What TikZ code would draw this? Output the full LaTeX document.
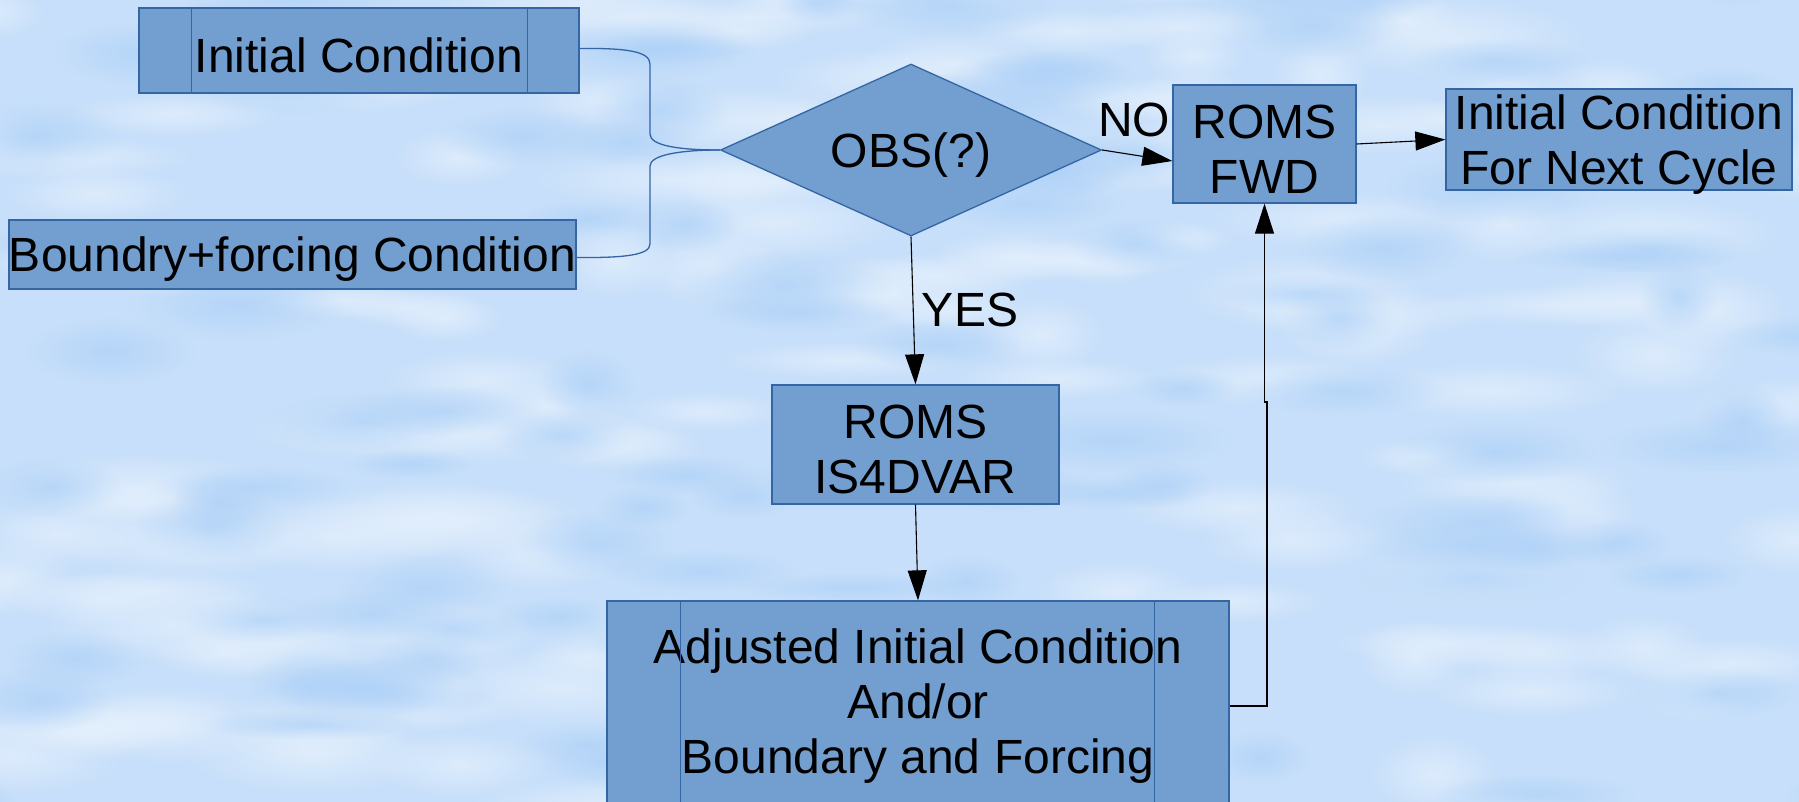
\documentclass[tikz,border=0pt]{standalone}
\usepackage{fontspec}
\setmainfont{Liberation Sans}
\usetikzlibrary{arrows.meta,shapes.geometric,fadings}
\definecolor{bgblue}{HTML}{C7DFFA}
\definecolor{cloudlight}{HTML}{E4F0FD}
\definecolor{clouddark}{HTML}{AFD2F8}
\definecolor{boxfill}{HTML}{729FCF}
\definecolor{boxline}{HTML}{3465A4}
\tikzfading[name=softblob, inner color=transparent!25, outer color=transparent!100]
\tikzset{
  box/.style={draw=boxline, fill=boxfill, line width=1.3pt, inner sep=0pt},
  txt/.style={align=center, inner sep=0pt, yshift=-5pt, font=\fontsize{48}{55}\selectfont},
  arr/.style={draw=black, line width=1.1pt, -{Triangle[length=30pt,width=19pt]}},
  link/.style={draw=boxline, line width=1.3pt},
  lbl/.style={font=\fontsize{48}{55}\selectfont, inner sep=0pt},
}
\begin{document}
\begin{tikzpicture}[x=1pt,y=-1pt]
\useasboundingbox (0,0) rectangle (1799,802);
\fill[bgblue] (0,0) rectangle (1799,802);
\begin{scope}
\clip (0,0) rectangle (1799,802);
\pgfmathsetseed{7}
\foreach \i in {1,...,150} {
  \pgfmathsetmacro\cx{rnd*1899-50}
  \pgfmathsetmacro\cy{rnd*860-30}
  \pgfmathsetmacro\rx{50+rnd*100}
  \pgfmathsetmacro\ry{18+rnd*24}
  \fill[cloudlight, path fading=softblob] (\cx,\cy) ellipse [x radius=\rx pt, y radius=\ry pt];
}
\foreach \i in {1,...,110} {
  \pgfmathsetmacro\cx{rnd*1899-50}
  \pgfmathsetmacro\cy{rnd*860-30}
  \pgfmathsetmacro\rx{40+rnd*80}
  \pgfmathsetmacro\ry{15+rnd*22}
  \fill[clouddark, path fading=softblob] (\cx,\cy) ellipse [x radius=\rx pt, y radius=\ry pt];
}
\end{scope}

% nodes
\node[box, minimum width=440pt, minimum height=85pt, label={[txt]center:Initial Condition}] (ic) at (359,50.5) {};
\node[box, minimum width=567pt, minimum height=69pt, label={[txt]center:Boundry+forcing Condition}] (bf) at (292.5,254.5) {};
\node[box, diamond, aspect=2.2, minimum width=381pt, minimum height=172pt, label={[txt]center:OBS(?)}] (obs) at (911,150) {};
\node[box, minimum width=183pt, minimum height=118pt, label={[txt]center:{ROMS\\FWD}}] (fwd) at (1264.5,144) {};
\node[box, minimum width=346pt, minimum height=101pt, label={[txt]center:{Initial Condition\\For Next Cycle}}] (next) at (1619,139.5) {};
\node[box, minimum width=287pt, minimum height=119pt, label={[txt]center:{ROMS\\IS4DVAR}}] (is4) at (915.5,444.5) {};
\node[box, minimum width=622pt, minimum height=210pt, label={[txt,yshift=5pt]center:{Adjusted Initial Condition\\And/or\\Boundary and Forcing}}] (adj) at (918,706) {};

% inner side bars
\draw[link] ([xshift=53pt]ic.north west) -- ([xshift=53pt]ic.south west);
\draw[link] ([xshift=-52pt]ic.north east) -- ([xshift=-52pt]ic.south east);
\draw[link] ([xshift=74pt]adj.north west) -- ([xshift=74pt]adj.south west);
\draw[link] ([xshift=-75pt]adj.north east) -- ([xshift=-75pt]adj.south east);

% brace-like joins
\draw[link] ([yshift=2pt]ic.east) .. controls (625,48) and (650,51) .. (650,64) -- (650,134)
  .. controls (650,146) and (680,150) .. (obs.west);
\draw[link] ([yshift=-3pt]bf.east) .. controls (625,258) and (650,255) .. (650,244) -- (650,166)
  .. controls (650,155) and (680,150) .. (obs.west);

% arrows
\draw[arr] (obs.east) -- ([yshift=-17pt]fwd.west);
\draw[arr] (fwd.east) -- (next.west);
\draw[arr] (obs.south) -- (is4.north);
\draw[arr] (is4.south) -- (adj.north);
\coordinate (jog) at (1267,402);
\draw[arr] (adj.east) -| (jog) -- (jog -| fwd.south) -- (fwd.south);

% labels
\node[lbl] (no) at (1134,120) {NO};
\node[lbl] (yes) at (970,310) {YES};
\end{tikzpicture}
\end{document}
